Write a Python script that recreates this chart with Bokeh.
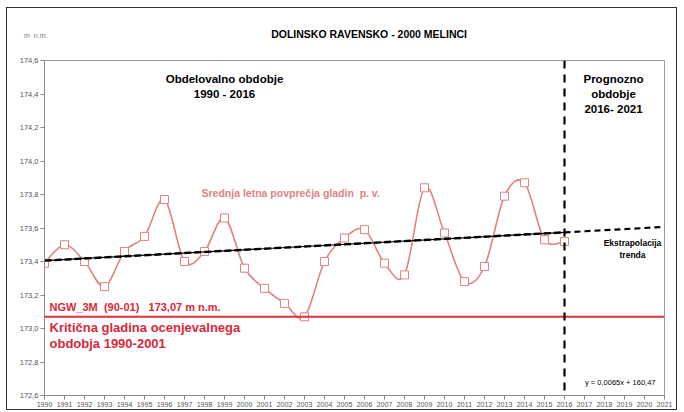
from bokeh.plotting import figure
from bokeh.models import Label, Span, FixedTicker, ColumnDataSource, LinearAxis
from bokeh.embed import file_html
from bokeh.resources import INLINE
import numpy as np

# ---- data ----
years = list(range(1990, 2017))
levels = [173.39, 173.50, 173.40, 173.25, 173.46, 173.55, 173.77, 173.40, 173.46, 173.66,
          173.36, 173.24, 173.15, 173.07, 173.40, 173.54, 173.59, 173.39, 173.32, 173.84,
          173.57, 173.28, 173.37, 173.79, 173.87, 173.53, 173.52]
trend_slope = 0.0065
trend_intercept = 160.47
critical_level = 173.07
forecast_start = 2016
forecast_end = 2021
y_ticks = [172.6, 172.8, 173.0, 173.2, 173.4, 173.6, 173.8, 174.0, 174.2, 174.4, 174.6]
y_tick_labels = ["172,6", "172,8", "173,0", "173,2", "173,4", "173,6", "173,8", "174,0", "174,2", "174,4", "174,6"]
x_ticks = list(range(1990, 2022))
title_text = "DOLINSKO RAVENSKO - 2000 MELINCI"
unit_text = "m  n.m."

PINK = "#e08282"
RED = "#e0303c"
TXTRED = "#d8283a"
FONT = "Liberation Sans"
NB = "\u00a0"

p = figure(width=671, height=403, output_backend="svg", toolbar_location=None,
           x_range=(1990, 2021), y_range=(172.6, 174.6),
           min_border_left=37, min_border_right=14, min_border_top=52, min_border_bottom=16,
           background_fill_color="white", border_fill_color="white")
p.styles = {"border": "1px solid #333", "margin-left": "6px", "margin-top": "7px"}
p.grid.visible = False
p.outline_line_color = "#9a9a9a"
p.outline_line_width = 1

# main axes styling
bottom_axis = p.below[0]
left_axis = p.left[0]
for ax in (bottom_axis, left_axis):
    ax.axis_line_color = "#8a8a8a"
    ax.major_tick_line_color = "#8a8a8a"
    ax.minor_tick_line_color = None
    ax.major_tick_in = 0
    ax.major_tick_out = 4
    ax.major_label_text_font = FONT
    ax.major_label_text_color = "#555555"
    ax.major_label_text_font_size = "7.5px"
    ax.major_label_standoff = 2
bottom_axis.major_label_text_font_size = "7px"
bottom_axis.ticker = FixedTicker(ticks=x_ticks)
left_axis.ticker = FixedTicker(ticks=y_ticks)
left_axis.major_label_overrides = {t: l for t, l in zip(y_ticks, y_tick_labels)}

# top axis carrying the unit text (as tick label) and the chart title (as axis label)
top = LinearAxis(ticker=FixedTicker(ticks=[x_ticks[0]]),
                 major_label_overrides={x_ticks[0]: unit_text.replace(" ", NB) + NB * 9},
                 axis_line_color=None, major_tick_line_color=None, minor_tick_line_color=None,
                 major_tick_in=0, major_tick_out=0, major_label_standoff=22,
                 major_label_text_font=FONT, major_label_text_font_size="7px",
                 major_label_text_color="#7a7a7a",
                 axis_label=NB * 10 + title_text, axis_label_standoff=-11,
                 axis_label_text_font=FONT, axis_label_text_font_size="10.5px",
                 axis_label_text_font_style="bold", axis_label_text_color="black")
p.add_layout(top, "above")

# critical level line
p.add_layout(Span(location=critical_level, dimension="width", line_color=RED, line_width=2))

# smoothed series (Catmull-Rom style Bezier segments through the data points)
xs = np.array(years, dtype=float)
ys = np.array(levels, dtype=float)
n = len(xs)
xp = np.concatenate([[xs[0]], xs, [xs[-1]]])
yp = np.concatenate([[ys[0]], ys, [ys[-1]]])
i = np.arange(n - 1)
bez = ColumnDataSource(dict(
    x0=xs[:-1], y0=ys[:-1], x1=xs[1:], y1=ys[1:],
    cx0=xs[:-1] + (xp[i + 2] - xp[i]) / 6, cy0=ys[:-1] + (yp[i + 2] - yp[i]) / 6,
    cx1=xs[1:] - (xp[i + 3] - xp[i + 1]) / 6, cy1=ys[1:] - (yp[i + 3] - yp[i + 1]) / 6,
))
p.bezier(x0="x0", y0="y0", x1="x1", y1="y1", cx0="cx0", cy0="cy0", cx1="cx1", cy1="cy1",
         source=bez, line_color=PINK, line_width=1.6)
p.scatter(years, levels, marker="square", size=8, line_color=PINK, fill_color="white", line_width=1)

# trend line
tx = [years[0], forecast_start]
ty = [trend_slope * x + trend_intercept for x in tx]
p.line(tx, ty, line_color="black", line_width=1.2)
p.line(tx, ty, line_color="black", line_width=2.4, line_dash="7 3")
ex = [forecast_start, forecast_end]
ey = [trend_slope * x + trend_intercept for x in ex]
p.line(ex, ey, line_color="black", line_width=2.2, line_dash="6 4")

# forecast boundary
p.add_layout(Span(location=forecast_start, dimension="height", line_color="black",
                  line_width=2.2, line_dash="8 6"))

def lab(x, y, text, size, color="black", align="left", bold=True, baseline="middle"):
    p.add_layout(Label(x=x, y=y, text=text, text_font=FONT, text_font_size=size,
                       text_color=color, text_align=align, text_baseline=baseline,
                       text_font_style="bold" if bold else "normal"))

# texts
lab(1999.0, 174.49, "Obdelovalno obdobje", "11.5px", align="center")
lab(1999.0, 174.40, "1990 - 2016", "11.5px", align="center")
lab(2018.45, 174.49, "Prognozno", "11.5px", align="center")
lab(2018.45, 174.40, "obdobje", "11.5px", align="center")
lab(2018.45, 174.31, "2016- 2021", "11.5px", align="center")
lab(1997.85, 173.81, "Srednja letna povprečja gladin" + NB + NB + "p. v.", "10.5px", color=PINK)
lab(2019.4, 173.51, "Ekstrapolacija", "8.5px", align="center")
lab(2019.4, 173.44, "trenda", "8.5px", align="center")
lab(1990.25, 173.13, "NGW_3M" + NB + NB + "(90-01)" + NB + NB + NB + "173,07 m n.m.", "11px", color=TXTRED)
lab(1990.25, 173.005, "Kritična gladina ocenjevalnega", "13px", color=TXTRED)
lab(1990.25, 172.91, "obdobja 1990-2001", "13px", color=TXTRED)
lab(2020.55, 172.68, "y = 0,0065x + 160,47", "7.5px", bold=False, align="right")

open("out.html", "w").write(file_html(p, INLINE))
